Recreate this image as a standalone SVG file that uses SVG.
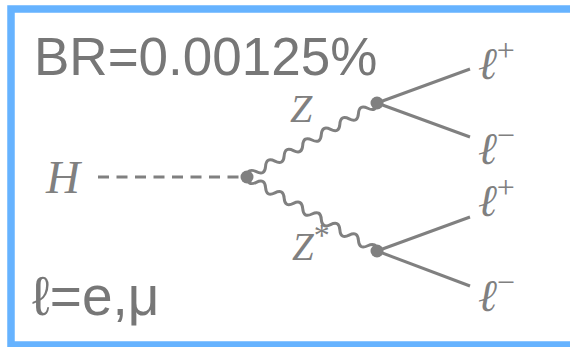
<svg xmlns="http://www.w3.org/2000/svg" width="570" height="347" viewBox="0 0 570 347">
<style>
.ln{stroke:#808080;stroke-width:3;fill:none}
.dot{fill:#808080}
.math{font-family:"Liberation Serif","DejaVu Serif",serif;font-style:italic;fill:#808080}
.sup{font-style:normal;font-size:32px}
.sans{font-family:"Liberation Sans","DejaVu Sans",sans-serif;fill:#777777}
</style>
<rect x="0" y="0" width="570" height="347" fill="#ffffff"/>
<path id="frame" d="M575,9 H11 V345 H575" fill="none" stroke="#66b3ff" stroke-width="7.5"/>
<text class="sans" x="34" y="75" font-size="53">BR=0.00125%</text>
<text class="sans" x="32" y="315" font-size="55">ℓ=e,μ</text>
<g id="connectors">
<line class="ln" x1="98" y1="177" x2="247" y2="177" stroke-dasharray="11 7.5"/>
<path class="ln" transform="translate(247,177) rotate(-29.65)" d="M0,0 q5.343,-8 10.686,0 t10.686,0 t10.686,0 t10.686,0 t10.686,0 t10.686,0 t10.686,0 t10.686,0 t10.686,0 t10.686,0 t10.686,0 t10.686,0 t10.686,0 t10.686,0"/>
<path class="ln" transform="translate(247,177) rotate(29.65)" d="M0,0 q5.343,8 10.686,0 t10.686,0 t10.686,0 t10.686,0 t10.686,0 t10.686,0 t10.686,0 t10.686,0 t10.686,0 t10.686,0 t10.686,0 t10.686,0 t10.686,0 t10.686,0"/>
<line class="ln" x1="377" y1="103" x2="470" y2="69"/>
<line class="ln" x1="377" y1="103" x2="470" y2="137"/>
<line class="ln" x1="377" y1="251" x2="470" y2="217"/>
<line class="ln" x1="377" y1="251" x2="470" y2="286"/>
</g>
<g id="H"><text class="math" x="46" y="193" font-size="47">H</text></g>
<g id="v1"><circle class="dot" cx="247" cy="177" r="6.5"/></g>
<g id="v2"><circle class="dot" cx="377" cy="103" r="6.5"/><text class="math" x="290" y="122" font-size="40">Z</text></g>
<g id="v3"><circle class="dot" cx="377" cy="251" r="6.5"/><text class="math" x="292" y="260" font-size="39">Z<tspan font-style="normal" font-size="32" dy="-14">*</tspan></text></g>
<g id="l1"><text class="math" x="478" y="79" font-size="45">ℓ<tspan class="sup" dy="-18">+</tspan></text></g>
<g id="l2"><text class="math" x="478" y="164" font-size="45">ℓ<tspan class="sup" dy="-18">−</tspan></text></g>
<g id="l3"><text class="math" x="478" y="216" font-size="45">ℓ<tspan class="sup" dy="-18">+</tspan></text></g>
<g id="l4"><text class="math" x="478" y="311" font-size="45">ℓ<tspan class="sup" dy="-18">−</tspan></text></g>
</svg>
